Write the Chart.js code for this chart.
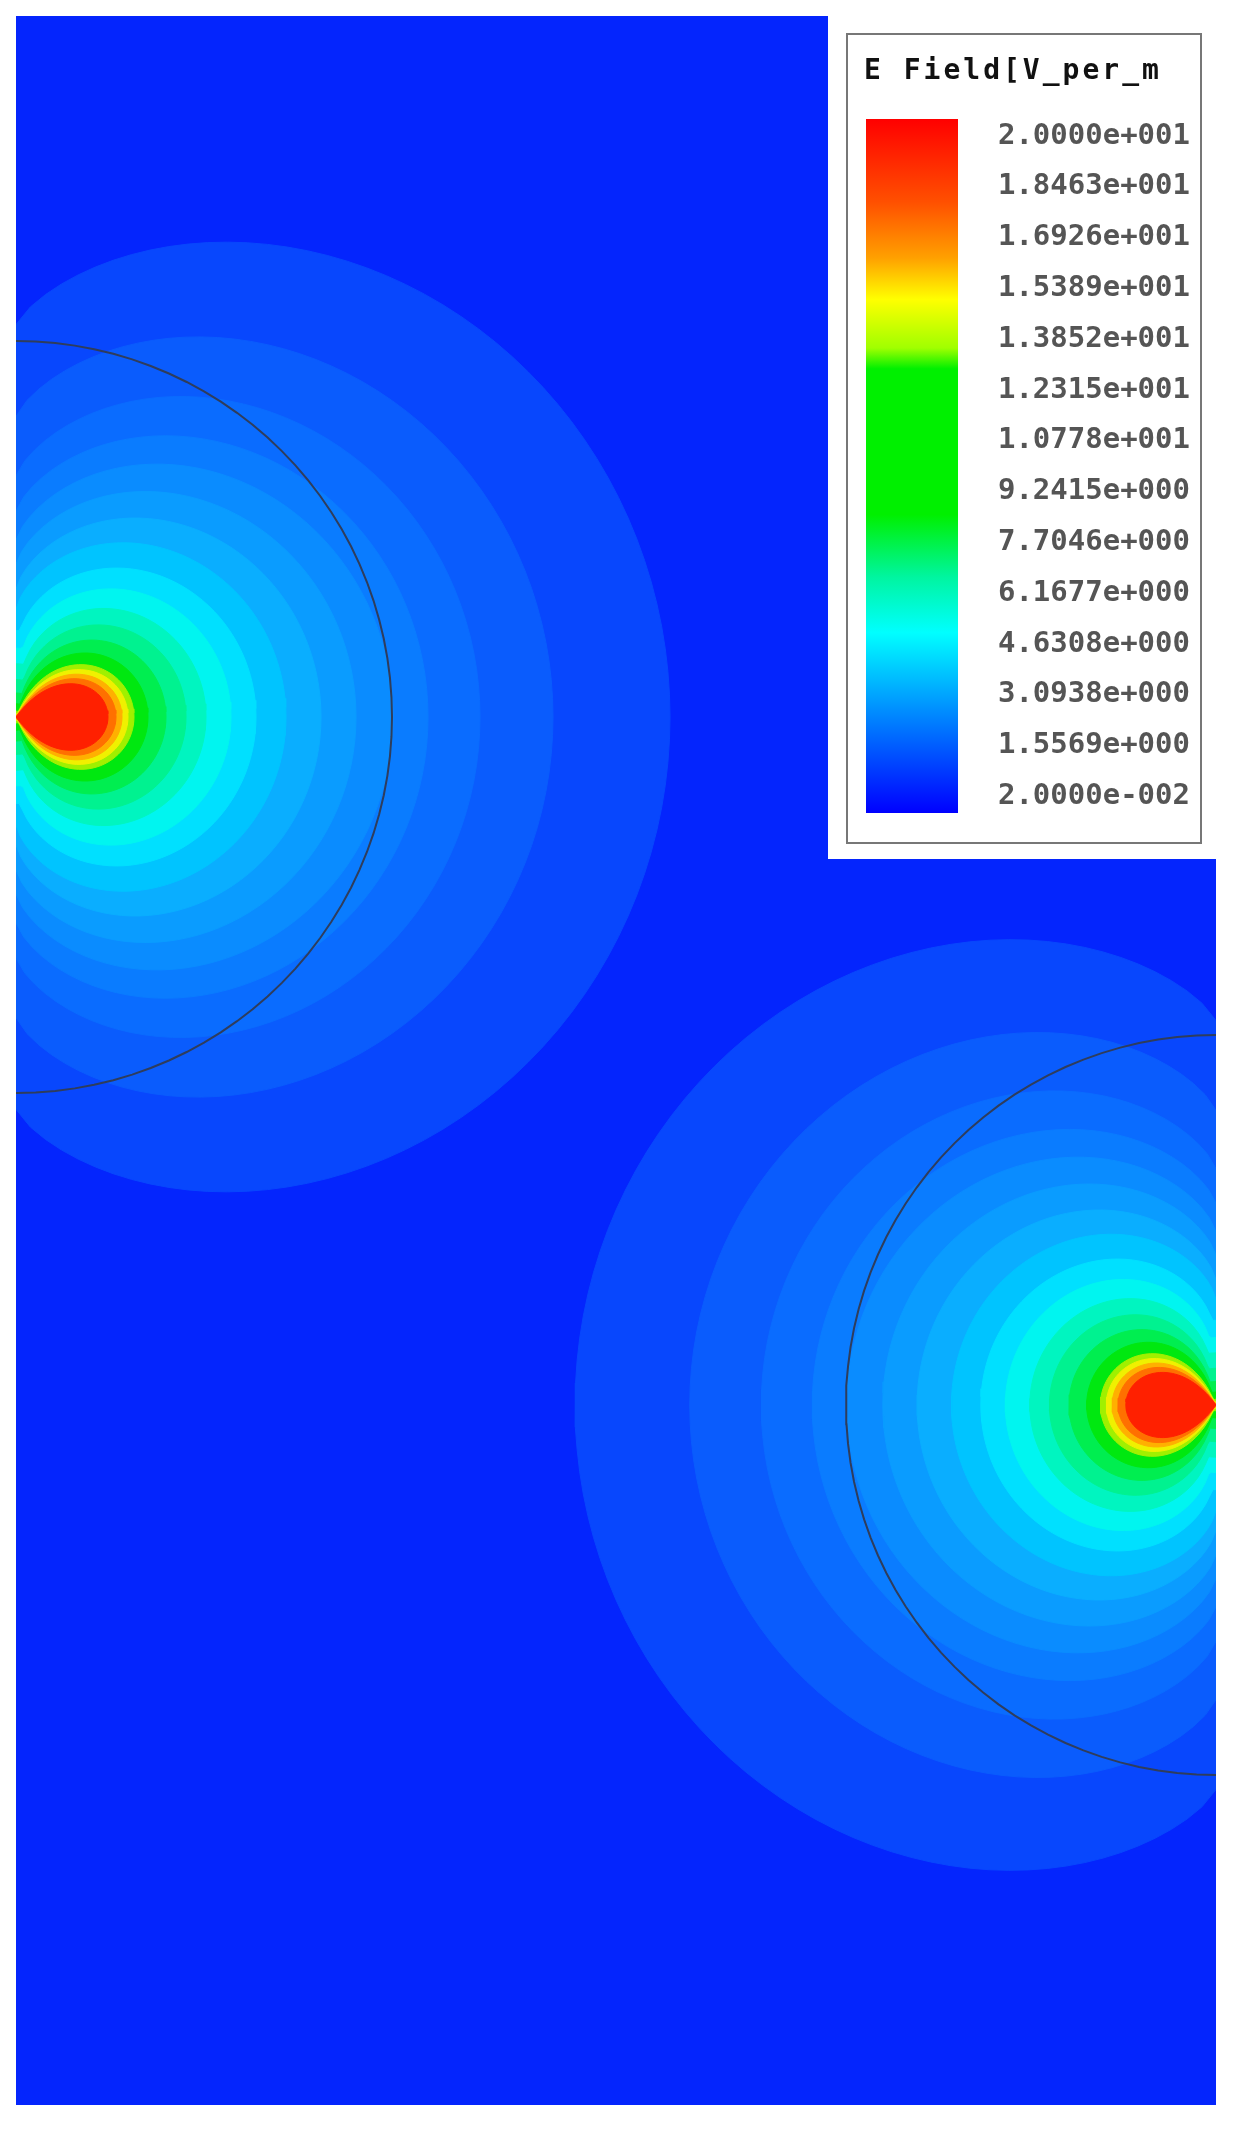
<!DOCTYPE html>
<html>
<head>
<meta charset="utf-8">
<script src="https://cdn.jsdelivr.net/npm/chart.js@4.4.0/dist/chart.umd.min.js"></script>
<style>
  body { margin: 0; background: #fff; }
  canvas { display: block; }
</style>
</head>
<body>
<canvas id="fieldChart" width="1240" height="2135"></canvas>
<script>
  // Legend labels (E field, V/m)
  const legendTitle = 'E Field[V_per_m';
  const legendLabels = ['2.0000e+001', '1.8463e+001', '1.6926e+001', '1.5389e+001', '1.3852e+001',
    '1.2315e+001', '1.0778e+001', '9.2415e+000', '7.7046e+000', '6.1677e+000',
    '4.6308e+000', '3.0938e+000', '1.5569e+000', '2.0000e-002'];

  // Sources: position in plot px, direction of the lobe, size scale
  const sourceX = [0, 1200];
  const sourceY = [701, 1389];
  const sourceDir = [1, -1];
  const sourceScale = [1, 0.98];
  const circleRadius = [376, 370];

  // Contour bands, outer to inner: forward reach, sideways fraction at the source, cone cut
  const bandForward = [654, 537, 464, 412, 377, 340, 305, 270, 240, 215, 190, 170, 150, 132, 118, 112, 106, 100, 92];
  const bandSide    = [0.6, 0.56, 0.52, 0.5, 0.47, 0.45, 0.42, 0.4, 0.36, 0.32, 0.28, 0.22, 0.16, 0.1, 0.05, 0.03, 0.02, 0.01, 0];
  const bandCone    = [0, 0, 0, 0, 0, 0, 0, 0, 0.05, 0.1, 0.15, 0.2, 0.25, 0.3, 0.4, 0.45, 0.5, 0.55, 0.6];
  const bandColors  = ['#0847fd', '#0a5cfd', '#0a6cff', '#0a7cff', '#0a8cff', '#0a9cff', '#0aaeff', '#00c4ff',
    '#00e0ff', '#00f5f0', '#00f5c0', '#00f290', '#00ee50', '#00e810', '#a0f000', '#f0f000', '#ffb000', '#ff7000', '#ff2000'];
  const background = '#0425fd';

  function lobe(s, i) {
    const k = sourceScale[s];
    const F = bandForward[i] * k, w = bandSide[i], c0 = bandCone[i];
    const pts = [];
    for (let j = 0; j <= 180; j++) {
      const t = -Math.PI + j / 180 * 2 * Math.PI;
      const c = Math.max(0, (Math.cos(t) - c0) / (1 - c0));
      const r = F * (w + (1 - w) * Math.pow(c, 0.8));
      pts.push({ x: sourceX[s] + sourceDir[s] * r * Math.cos(t), y: sourceY[s] + r * Math.sin(t) });
    }
    return pts;
  }

  function circle(s) {
    const pts = [];
    for (let j = 0; j <= 120; j++) {
      const t = j / 120 * 2 * Math.PI;
      pts.push({ x: sourceX[s] + circleRadius[s] * Math.cos(t), y: sourceY[s] + circleRadius[s] * Math.sin(t) });
    }
    return pts;
  }

  const datasets = [];
  for (let s = 0; s < sourceX.length; s++) {
    bandForward.forEach((f, i) => {
      datasets.push({
        data: lobe(s, i),
        backgroundColor: bandColors[i],
        borderColor: bandColors[i],
        borderWidth: 1,
        fill: 'shape',
        pointRadius: 0,
        tension: 0,
        order: 100 - i
      });
    });
    datasets.push({
      data: circle(s),
      borderColor: '#2f3d5c',
      borderWidth: 2,
      fill: false,
      pointRadius: 0,
      order: 0
    });
  }

  // plot background and colour legend
  const fieldPlugin = {
    id: 'fieldPlugin',
    beforeDatasetsDraw(chart) {
      const { ctx, chartArea: a } = chart;
      ctx.save();
      ctx.fillStyle = background;
      ctx.fillRect(a.left, a.top, a.right - a.left, a.bottom - a.top);
      ctx.restore();
    },
    afterDraw(chart) {
      const ctx = chart.ctx;
      ctx.save();
      ctx.fillStyle = '#fff';
      ctx.fillRect(828, 16, 388, 843);
      ctx.strokeStyle = '#777';
      ctx.lineWidth = 2;
      ctx.strokeRect(847, 34, 354, 809);

      const stops = [[0, '#ff0000'], [0.12, '#ff5000'], [0.2, '#ffa000'], [0.26, '#ffff00'], [0.33, '#a0ff00'],
        [0.36, '#00f000'], [0.57, '#00f000'], [0.66, '#00f5a0'], [0.74, '#00ffff'], [0.85, '#0090ff'], [1, '#0000ff']];
      const g = ctx.createLinearGradient(0, 119, 0, 813);
      stops.forEach(s => g.addColorStop(s[0], s[1]));
      ctx.fillStyle = g;
      ctx.fillRect(866, 119, 92, 694);

      ctx.fillStyle = '#111';
      ctx.font = 'bold 28px "DejaVu Sans Mono"';
      ctx.letterSpacing = '3px';
      ctx.textBaseline = 'middle';
      ctx.fillText(legendTitle, 864, 72);

      ctx.fillStyle = '#555';
      ctx.font = 'bold 29px "DejaVu Sans Mono"';
      ctx.letterSpacing = '0px';
      ctx.textAlign = 'right';
      legendLabels.forEach((t, i) => ctx.fillText(t, 1190, 136 + i * 50.8));
      ctx.restore();
    }
  };

  new Chart(document.getElementById('fieldChart'), {
    type: 'line',
    data: { datasets },
    options: {
      responsive: false,
      devicePixelRatio: 1,
      animation: false,
      layout: { padding: { left: 16, right: 24, top: 16, bottom: 30 } },
      plugins: { legend: { display: false }, tooltip: { enabled: false } },
      scales: {
        x: { type: 'linear', min: 0, max: 1200, display: false },
        y: { type: 'linear', min: 0, max: 2089, reverse: true, display: false }
      }
    },
    plugins: [fieldPlugin]
  });
</script>
</body>
</html>
